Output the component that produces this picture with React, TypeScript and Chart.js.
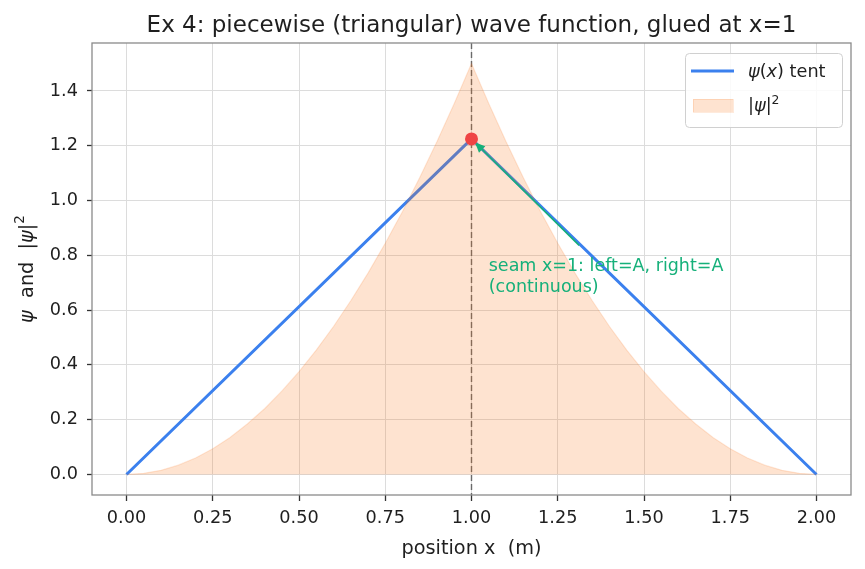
import React, { useEffect, useRef } from "react";
import { Chart, registerables } from "chart.js";

Chart.register(...registerables);

const titleText = "Ex 4: piecewise (triangular) wave function, glued at x=1";
const xLabel = "position x  (m)";

const tentX = [0, 1, 2];
const tentY = [0, 1.2247, 0];

const probX = [0, 0.05, 0.1, 0.15, 0.2, 0.25, 0.3, 0.35, 0.4, 0.45, 0.5, 0.55, 0.6, 0.65, 0.7, 0.75, 0.8, 0.85, 0.9, 0.95, 1.0,
  1.05, 1.1, 1.15, 1.2, 1.25, 1.3, 1.35, 1.4, 1.45, 1.5, 1.55, 1.6, 1.65, 1.7, 1.75, 1.8, 1.85, 1.9, 1.95, 2.0];
const probY = [0, 0.004, 0.015, 0.034, 0.06, 0.094, 0.135, 0.184, 0.24, 0.304, 0.375, 0.454, 0.54, 0.634, 0.735, 0.844, 0.96, 1.084, 1.215, 1.354, 1.5,
  1.354, 1.215, 1.084, 0.96, 0.844, 0.735, 0.634, 0.54, 0.454, 0.375, 0.304, 0.24, 0.184, 0.135, 0.094, 0.06, 0.034, 0.015, 0.004, 0];

const xTicks = [0, 0.25, 0.5, 0.75, 1.0, 1.25, 1.5, 1.75, 2.0];
const yTicks = [0, 0.2, 0.4, 0.6, 0.8, 1.0, 1.2, 1.4];

const seamX = 1;
const seamPoint = [1, 1.2247];
const annotText = ["seam x=1: left=A, right=A", "(continuous)"];
const annotTextPos = [1.05, 0.706];
const arrowStart = [1.312, 0.836];

const legendLabels = ["ψ(x) tent", "|ψ|²"];

const FONT = "'DejaVu Sans', sans-serif";
const BLUE = "#3b80ee";
const FILL = "rgba(249,115,22,0.2)";
const TEXT = "#1f1f1f";

function drawSegs(ctx: any, segs: [string, boolean, boolean][], x: number, y: number, size: number) {
  let cx = x;
  for (const [t, it, sup] of segs) {
    const s = sup ? size * 0.7 : size;
    ctx.font = `${it ? "oblique " : ""}${s}px ${FONT}`;
    ctx.fillText(t, cx, sup ? y - size * 0.38 : y);
    cx += ctx.measureText(t).width;
  }
  return cx - x;
}
function measureSegs(ctx: any, segs: [string, boolean, boolean][], size: number) {
  let w = 0;
  for (const [t, it, sup] of segs) {
    const s = sup ? size * 0.7 : size;
    ctx.font = `${it ? "oblique " : ""}${s}px ${FONT}`;
    w += ctx.measureText(t).width;
  }
  return w;
}

const overlay = {
  id: "overlay",
  beforeDatasetsDraw(chart: any) {
    const { ctx, scales } = chart;
    const x = scales.x;
    const area = chart.chartArea;
    ctx.save();
    ctx.strokeStyle = "#6a6a6a";
    ctx.lineWidth = 1.4;
    ctx.setLineDash([6, 3]);
    const sx = x.getPixelForValue(seamX);
    ctx.beginPath();
    ctx.moveTo(sx, area.top);
    ctx.lineTo(sx, area.bottom);
    ctx.stroke();
    ctx.restore();
  },
  afterDatasetsDraw(chart: any) {
    const { ctx, scales } = chart;
    const x = scales.x, y = scales.y;
    const area = chart.chartArea;
    ctx.save();
    const x0 = x.getPixelForValue(arrowStart[0]);
    const y0 = y.getPixelForValue(arrowStart[1]);
    const px = x.getPixelForValue(seamPoint[0]);
    const py = y.getPixelForValue(seamPoint[1]);
    const ang = Math.atan2(py - y0, px - x0);
    const x1 = px - Math.cos(ang) * 5;
    const y1 = py - Math.sin(ang) * 5;
    ctx.strokeStyle = "#16b07a";
    ctx.fillStyle = "#16b07a";
    ctx.lineWidth = 1.6;
    ctx.beginPath();
    ctx.moveTo(x0, y0);
    ctx.lineTo(x1 - Math.cos(ang) * 4, y1 - Math.sin(ang) * 4);
    ctx.stroke();
    const hl = 10, hw = 4.5;
    ctx.beginPath();
    ctx.moveTo(x1, y1);
    ctx.lineTo(x1 - hl * Math.cos(ang) + hw * Math.sin(ang), y1 - hl * Math.sin(ang) - hw * Math.cos(ang));
    ctx.lineTo(x1 - hl * Math.cos(ang) - hw * Math.sin(ang), y1 - hl * Math.sin(ang) + hw * Math.cos(ang));
    ctx.closePath();
    ctx.fill();
    ctx.fillStyle = "#ef4444";
    ctx.beginPath();
    ctx.arc(px, py, 6.5, 0, Math.PI * 2);
    ctx.fill();
    ctx.fillStyle = "#16b07a";
    ctx.font = `17.5px ${FONT}`;
    ctx.textAlign = "left";
    ctx.textBaseline = "alphabetic";
    const tx = x.getPixelForValue(annotTextPos[0]);
    const ty = y.getPixelForValue(annotTextPos[1]);
    ctx.fillText(annotText[0], tx, ty - 10.5);
    ctx.fillText(annotText[1], tx, ty + 10.5);
    ctx.strokeStyle = "#8a8a8a";
    ctx.lineWidth = 1.3;
    ctx.strokeRect(area.left, area.top, area.right - area.left, area.bottom - area.top);
    ctx.fillStyle = TEXT;
    ctx.font = `23px ${FONT}`;
    ctx.textAlign = "center";
    ctx.textBaseline = "alphabetic";
    ctx.fillText(titleText, (area.left + area.right) / 2, 31.5);
    ctx.save();
    ctx.translate(28, (area.top + area.bottom) / 2);
    ctx.rotate(-Math.PI / 2);
    ctx.textAlign = "left";
    ctx.textBaseline = "middle";
    const ysegs: [string, boolean, boolean][] = [["ψ", true, false], ["  and  |", false, false], ["ψ", true, false], ["|", false, false], ["2", false, true]];
    const yw = measureSegs(ctx, ysegs, 19.3);
    drawSegs(ctx, ysegs, -yw / 2, 0, 19.3);
    ctx.restore();
    const lx = 685, ly = 53, lw = 157, lh = 74;
    ctx.fillStyle = "rgba(255,255,255,0.85)";
    ctx.strokeStyle = "#d0d0d0";
    ctx.lineWidth = 1;
    ctx.beginPath();
    (ctx as any).roundRect(lx + 0.5, ly + 0.5, lw, lh, 4);
    ctx.fill();
    ctx.stroke();
    ctx.strokeStyle = BLUE;
    ctx.lineWidth = 3;
    ctx.beginPath();
    ctx.moveTo(691, 71);
    ctx.lineTo(734, 71);
    ctx.stroke();
    ctx.fillStyle = FILL;
    ctx.fillRect(693, 99, 40, 13);
    ctx.strokeStyle = "rgba(249,115,22,0.15)";
    ctx.lineWidth = 1;
    ctx.strokeRect(693.5, 99.5, 40, 13);
    ctx.fillStyle = TEXT;
    ctx.textAlign = "left";
    ctx.textBaseline = "alphabetic";
    drawSegs(ctx, [["ψ", true, false], ["(", false, false], ["x", true, false], [") tent", false, false]], 748, 77, 17.7);
    drawSegs(ctx, [["|", false, false], ["ψ", true, false], ["|", false, false], ["2", false, true]], 748, 111, 17.7);
    ctx.restore();
  },
};

export default function App() {
  const ref = useRef<HTMLCanvasElement>(null);
  useEffect(() => {
    const tentData = tentX.map((v, i) => ({ x: v, y: tentY[i] }));
    const probData = probX.map((v, i) => ({ x: v, y: probY[i] }));
    const tickFont = { family: FONT, size: 17.7 };
    const chart = new Chart(ref.current!, {
      type: "scatter",
      data: {
        datasets: [
          {
            label: legendLabels[1],
            data: probData,
            showLine: true,
            fill: "origin",
            backgroundColor: FILL,
            borderColor: "rgba(249,115,22,0.16)",
            borderWidth: 1.2,
            pointRadius: 0,
            tension: 0,
          },
          {
            label: legendLabels[0],
            data: tentData,
            showLine: true,
            fill: false,
            borderColor: BLUE,
            borderWidth: 3,
            pointRadius: 0,
          },
        ],
      },
      options: {
        animation: false,
        responsive: false,
        maintainAspectRatio: false,
        layout: { padding: { top: 43, right: 14, left: 0, bottom: 0 } },
        plugins: { legend: { display: false }, tooltip: { enabled: false }, title: { display: false } },
        scales: {
          x: {
            type: "linear",
            min: -0.1,
            max: 2.1,
            afterBuildTicks: (s: any) => { s.ticks = xTicks.map((v) => ({ value: v })); },
            afterFit: (s: any) => { s.height = 74; },
            ticks: { font: tickFont, color: TEXT, padding: 7, callback: (v: any) => Number(v).toFixed(2), maxRotation: 0, autoSkip: false },
            grid: { color: "#dcdcdc", lineWidth: 1, tickLength: 6, tickColor: "#333", tickWidth: 1.3 },
            border: { display: false },
            title: { display: true, text: xLabel, font: { family: FONT, size: 19.3 }, color: TEXT, padding: { top: 0, bottom: 8 } },
          },
          y: {
            type: "linear",
            min: -0.075,
            max: 1.575,
            afterBuildTicks: (s: any) => { s.ticks = yTicks.map((v) => ({ value: v })); },
            afterFit: (s: any) => { s.width = 92; },
            ticks: { font: tickFont, color: TEXT, padding: 9, callback: (v: any) => Number(v).toFixed(1), autoSkip: false },
            grid: { color: "#dcdcdc", lineWidth: 1, tickLength: 5, tickColor: "#333", tickWidth: 1.3 },
            border: { display: false },
            title: { display: false },
          },
        },
      },
      plugins: [overlay],
    });
    return () => chart.destroy();
  }, []);
  return (
    <div style={{ position: "absolute", left: 0, top: 0, width: 865, height: 569, background: "#fff" }}>
      <canvas ref={ref} width={865} height={569} style={{ width: 865, height: 569 }} />
    </div>
  );
}
